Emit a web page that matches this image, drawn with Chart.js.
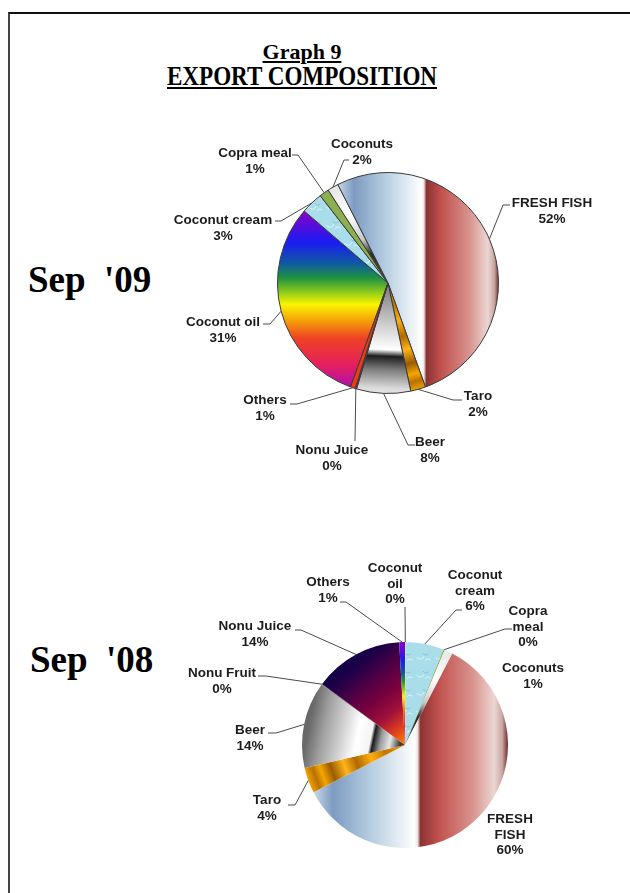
<!DOCTYPE html>
<html>
<head>
<meta charset="utf-8">
<title>Export composition</title>
<script src="https://cdn.jsdelivr.net/npm/chart.js@4.4.0/dist/chart.umd.min.js"></script>
<style>
  html, body { margin: 0; padding: 0; background: #fff; }
  #page { position: relative; width: 630px; height: 893px; overflow: hidden; }
  .frame { position: absolute; left: 8px; top: 12px; width: 700px; height: 1000px;
           border-left: 2px solid #444; border-top: 2px solid #111; }
  .title { position: absolute; left: 0; width: 604px; text-align: center; color: #000;
           font-family: "Liberation Serif", "Times New Roman", serif; font-weight: bold;
           text-decoration: underline; text-decoration-thickness: 2px; text-underline-offset: 2px;
           white-space: pre; }
  .t1 { top: 41px; font-size: 22px; line-height: 22px; }
  .t2 { top: 63px; font-size: 27px; line-height: 27px; transform: scaleX(0.855); }
  .period { position: absolute; color: #000; font-family: "Liberation Serif", "Times New Roman", serif;
            font-weight: bold; font-size: 37px; line-height: 37px; white-space: pre; }
  canvas { position: absolute; left: 0; top: 0; }
</style>
</head>
<body>
<div id="page">
  <div class="frame"></div>
  <div class="title t1">Graph 9</div>
  <div class="title t2">EXPORT COMPOSITION</div>
  <div class="period" style="left:28px; top:261px;">Sep  '09</div>
  <div class="period" style="left:30px; top:641px;">Sep  '08</div>
  <canvas id="pie09" width="630" height="893"></canvas>
  <canvas id="pie08" width="630" height="893"></canvas>
</div>
<script>
// Export shares (% of total), listed clockwise
const categories09 = ['Coconut oil', 'Coconut cream', 'Copra meal', 'Coconuts', 'FRESH FISH', 'Taro', 'Beer', 'Nonu Juice', 'Others'];
const share09 = [30.8, 3.2, 1.4, 1.6, 52.0, 2.2, 7.9, 0.2, 0.7];

const categories08 = ['Coconut oil', 'Coconut cream', 'Copra meal', 'Coconuts', 'FRESH FISH', 'Taro', 'Beer', 'Nonu Fruit', 'Nonu Juice', 'Others'];
const share08 = [0.1, 6.0, 0.2, 1.3, 59.8, 4.0, 13.6, 0.1, 14.0, 0.9];

// Callout placement: text centre x, first baseline y, leader bend points
const callouts09 = {
    'Coconut oil':   { x: 223, y: 326, lead: [[263, 324], [270, 324]] },
    'Coconut cream': { x: 223, y: 224, lead: [[275, 221], [281, 221]] },
    'Copra meal':    { x: 255, y: 157, lead: [[292, 155], [298, 155]] },
    'Coconuts':      { x: 362, y: 148, lead: [[349, 160], [344, 160]] },
    'FRESH FISH':    { x: 552, y: 207, lead: [[510, 205], [503, 205]], narrow: true },
    'Taro':          { x: 478, y: 400, lead: [[462, 400], [453, 400]] },
    'Beer':          { x: 430, y: 446, lead: [[415, 445], [408, 445]] },
    'Nonu Juice':    { x: 332, y: 454, lead: [[355, 441]] },
    'Others':        { x: 265, y: 404, lead: [[290, 404], [297, 404]] }
};
const callouts08 = {
    'Coconut oil':   { x: 395, y: 572, wrap: true, lead: [[405, 607]] },
    'Coconut cream': { x: 475, y: 579, wrap: true, lead: [[462, 610], [456, 610]] },
    'Copra meal':    { x: 528, y: 615, wrap: true, lead: [[512, 629], [505, 629]] },
    'Coconuts':      { x: 533, y: 672 },
    'FRESH FISH':    { x: 510, y: 823, wrap: true },
    'Taro':          { x: 267, y: 804, lead: [[288, 805], [295, 805]] },
    'Beer':          { x: 250, y: 734, lead: [[268, 733], [276, 733]] },
    'Nonu Fruit':    { x: 222, y: 677, lead: [[258, 676], [266, 676]] },
    'Nonu Juice':    { x: 255, y: 630, lead: [[295, 630], [301, 630]] },
    'Others':        { x: 328, y: 586, lead: [[340, 602], [346, 602]] }
};

const LABEL_FONT = 'bold 13.5px "Liberation Sans", Arial, sans-serif';
const NARROW_FONT = 'bold 13.5px "Liberation Sans Narrow", "Arial Narrow", "Liberation Sans", sans-serif';

// Angles and bounding box of one slice, worked out from the data and the chart area
function sliceGeometry(chart, index) {
    const area = chart.chartArea;
    const cx = (area.left + area.right) / 2;
    const cy = (area.top + area.bottom) / 2;
    const r = Math.min(area.width, area.height) / 2;
    const values = chart.data.datasets[0].data;
    const total = values.reduce((s, v) => s + v, 0);
    let before = 0;
    for (let k = 0; k < index; k++) before += values[k];
    const start = (chart.options.rotation - 90) * Math.PI / 180 + before / total * 2 * Math.PI;
    const end = start + values[index] / total * 2 * Math.PI;
    let left = cx, right = cx, top = cy, bottom = cy;
    for (let s = 0; s <= 90; s++) {
        const a = start + (end - start) * s / 90;
        const px = cx + r * Math.cos(a), py = cy + r * Math.sin(a);
        left = Math.min(left, px); right = Math.max(right, px);
        top = Math.min(top, py); bottom = Math.max(bottom, py);
    }
    return { cx, cy, r, start, end, mid: (start + end) / 2, left, right, top, bottom };
}

// Gradient fill for a slice: 'x' across, 'y' down, 'out' from centre to rim, 'diag' corner to corner
function gradient(kind, stops) {
    return (context) => {
        const chart = context.chart;
        if (!chart.chartArea) return stops[0][1];
        const g = sliceGeometry(chart, context.dataIndex);
        const c = chart.ctx;
        let grad;
        if (kind === 'x') grad = c.createLinearGradient(g.left, 0, g.right, 0);
        else if (kind === 'y') grad = c.createLinearGradient(0, g.top, 0, g.bottom);
        else if (kind === 'out') grad = c.createLinearGradient(g.cx, g.cy, g.cx + Math.cos(g.mid) * g.r, g.cy + Math.sin(g.mid) * g.r);
        else grad = c.createLinearGradient(g.left, g.top, g.right, g.bottom);
        stops.forEach(([o, col]) => grad.addColorStop(o, col));
        return grad;
    };
}

// Pale water texture for coconut cream
let creamTile = null;
function creamPattern(context) {
    if (!creamTile) {
        creamTile = document.createElement('canvas');
        creamTile.width = 18; creamTile.height = 18;
        const t = creamTile.getContext('2d');
        t.fillStyle = '#a9dde9'; t.fillRect(0, 0, 18, 18);
        t.lineWidth = 1;
        t.strokeStyle = 'rgba(255,255,255,0.6)';
        t.beginPath(); t.arc(6, 7, 4, 0.3, 2.6); t.stroke();
        t.beginPath(); t.arc(14, 14, 3, 3.5, 5.8); t.stroke();
        t.strokeStyle = 'rgba(80,150,175,0.35)';
        t.beginPath(); t.arc(12, 4, 3, 0.5, 2.8); t.stroke();
    }
    return context.chart.ctx.createPattern(creamTile, 'repeat');
}

const rainbow = [[0, '#8b00c9'], [0.18, '#1a1cf2'], [0.3, '#0f5aa0'], [0.38, '#1e9140'], [0.46, '#8cca1c'],
                 [0.53, '#fbf500'], [0.62, '#f6a208'], [0.72, '#ee4323'], [0.87, '#e6205c'], [1, '#b00fb0']];
const fishStops = [[0, '#c9d9e9'], [0.1, '#7d9bc1'], [0.25, '#a8c2d9'], [0.4, '#d8e4ee'], [0.52, '#ffffff'],
                   [0.535, '#efe4e4'], [0.55, '#8a3333'], [0.64, '#c0504d'], [0.82, '#d9948f'],
                   [0.93, '#ecd6d2'], [0.97, '#caa7a3'], [1, '#6a2a2a']];
const taroStops = [[0, '#f3a000'], [0.2, '#c27800'], [0.35, '#ffae10'], [0.5, '#b06a00'], [0.62, '#ffb41a'],
                   [0.75, '#9a5c00'], [0.85, '#f6a500'], [0.92, '#b87200'], [1, '#f4a000']];
const coconutStops = [[0, '#5a5a5a'], [0.3, '#2a2a2a'], [0.45, '#c8c8c8'], [0.7, '#ffffff'], [1, '#e6e6e6']];

const fills09 = {
    'Coconut oil': gradient('y', rainbow),
    'Coconut cream': creamPattern,
    'Copra meal': '#8cb04e',
    'Coconuts': gradient('out', coconutStops),
    'FRESH FISH': gradient('x', fishStops),
    'Taro': gradient('out', taroStops),
    'Beer': gradient('out', [[0, '#8c8c8c'], [0.1, '#8c8c8c'], [0.42, '#d8d8d8'], [0.6, '#ffffff'],
                             [0.66, '#1e1e1e'], [0.78, '#7c7c7c'], [0.95, '#dcdcdc'], [1, '#e4e4e4']]),
    'Nonu Juice': '#7a1a8a',
    'Others': '#f23a10'
};
const fills08 = {
    'Coconut oil': '#f0e000',
    'Coconut cream': creamPattern,
    'Copra meal': '#8cb04e',
    'Coconuts': gradient('out', coconutStops),
    'FRESH FISH': gradient('x', fishStops),
    'Taro': gradient('out', taroStops),
    'Beer': gradient('out', [[0, '#3a3a3a'], [0.05, '#3a3a3a'], [0.15, '#e8e8e8'], [0.24, '#9a9a9a'],
                             [0.31, '#1a1a1a'], [0.34, '#f4f4f4'], [0.47, '#ffffff'], [0.63, '#cfcfcf'],
                             [0.8, '#a0a0a0'], [0.95, '#6a6a6a'], [1, '#666666']]),
    'Nonu Fruit': '#606060',
    'Nonu Juice': gradient('diag', [[0, '#060046'], [0.3, '#1a0048'], [0.45, '#4a0045'], [0.6, '#75003e'],
                                    [0.75, '#a0103a'], [0.88, '#e0401e'], [1, '#ff8a00']]),
    'Others': gradient('y', rainbow)
};

// Category name and rounded share beside each slice, joined to the rim by a leader line
function calloutPlugin(placement) {
    return {
        id: 'callouts',
        afterDatasetsDraw(chart) {
            const ctx = chart.ctx;
            const meta = chart.getDatasetMeta(0);
            const values = chart.data.datasets[0].data;
            const total = values.reduce((s, v) => s + v, 0);
            ctx.save();
            chart.data.labels.forEach((name, i) => {
                const p = placement[name];
                if (!p) return;
                const arc = meta.data[i];
                if (p.lead) {
                    const mid = (arc.startAngle + arc.endAngle) / 2;
                    ctx.beginPath();
                    ctx.moveTo(p.lead[0][0], p.lead[0][1]);
                    p.lead.slice(1).forEach(pt => ctx.lineTo(pt[0], pt[1]));
                    ctx.lineTo(arc.x + Math.cos(mid) * arc.outerRadius, arc.y + Math.sin(mid) * arc.outerRadius);
                    ctx.strokeStyle = '#4a4a4a';
                    ctx.lineWidth = 1;
                    ctx.stroke();
                }
                const lines = p.wrap ? name.split(' ') : [name];
                lines.push(Math.round(values[i] / total * 100) + '%');
                ctx.font = p.narrow ? NARROW_FONT : LABEL_FONT;
                ctx.fillStyle = '#1c1c1c';
                ctx.textAlign = 'center';
                ctx.textBaseline = 'alphabetic';
                lines.forEach((t, k) => ctx.fillText(t, p.x, p.y + k * 15.5));
            });
            ctx.restore();
        }
    };
}

function pieChart(id, categories, shares, fills, rotation, padding, border, placement) {
    return new Chart(document.getElementById(id), {
        type: 'pie',
        data: {
            labels: categories,
            datasets: [{
                data: shares,
                backgroundColor: (context) => {
                    const f = fills[categories[context.dataIndex]];
                    return typeof f === 'function' ? f(context) : f;
                },
                borderColor: border.color,
                borderWidth: border.width,
                offset: 0,
                hoverOffset: 0
            }]
        },
        options: {
            responsive: false,
            animation: false,
            events: [],
            rotation: rotation,
            layout: { padding: padding },
            plugins: { legend: { display: false }, tooltip: { enabled: false } }
        },
        plugins: [calloutPlugin(placement)]
    });
}

pieChart('pie09', categories09, share09, fills09, 199.8,
    { left: 277, right: 131, top: 172, bottom: 499 },
    { color: '#3a3a3a', width: 1 }, callouts09);

pieChart('pie08', categories08, share08, fills08, 0,
    { left: 302, right: 122, top: 642, bottom: 45 },
    { color: 'rgba(0,0,0,0)', width: 0 }, callouts08);
</script>
</body>
</html>
